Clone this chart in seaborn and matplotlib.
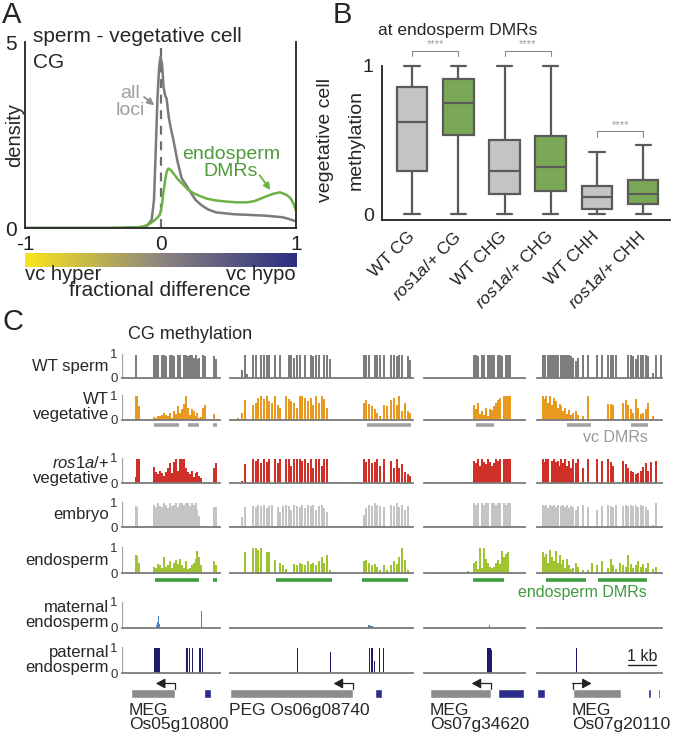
import matplotlib
matplotlib.use("Agg")
import matplotlib.pyplot as plt
from matplotlib.colors import LinearSegmentedColormap
import numpy as np
import pandas as pd
import seaborn as sns

# ---------------- panel A: density of (sperm - vegetative) CG methylation
ALL_X = [-1, -0.3, -0.15, -0.1, -0.065, -0.048, -0.035, -0.023, -0.01, 0, 0.012, 0.022,
         0.035, 0.045, 0.06, 0.075, 0.095, 0.125, 0.156, 0.19, 0.22, 0.26, 0.3, 0.35,
         0.41, 0.54, 0.66, 0.78, 0.9, 0.95, 1.0]
ALL_Y = [0, 0, 0.02, 0.06, 0.22, 0.76, 2.1, 3.44, 4.33, 4.6, 4.4, 3.8,
         3.55, 3.48, 3.0, 2.7, 2.37, 1.8, 1.34, 1.15, 0.97, 0.75, 0.62, 0.5,
         0.42, 0.37, 0.35, 0.33, 0.29, 0.24, 0.18]
DMR_X = [-1, -0.4, -0.25, -0.17, -0.127, -0.09, -0.053, -0.025, -0.004, 0.01, 0.021, 0.035,
         0.046, 0.058, 0.075, 0.095, 0.13, 0.169, 0.2, 0.242, 0.29, 0.341, 0.41, 0.488,
         0.56, 0.636, 0.69, 0.734, 0.78, 0.833, 0.882, 0.931, 0.96, 0.98, 1.0]
DMR_Y = [0, 0, 0.01, 0.02, 0.04, 0.09, 0.18, 0.27, 0.36, 0.6, 0.94, 1.3,
         1.52, 1.6, 1.56, 1.47, 1.3, 1.16, 1.04, 0.94, 0.86, 0.79, 0.74, 0.71,
         0.69, 0.69, 0.72, 0.78, 0.85, 0.92, 0.96, 0.89, 0.8, 0.67, 0.47]

# ---------------- panel B: vegetative cell methylation at endosperm DMRs
B_LABELS = ["WT CG", "ros1a/+ CG", "WT CHG", "ros1a/+ CHG", "WT CHH", "ros1a/+ CHH"]
B_TICKLABELS = ["WT CG", r"$\it{ros1a}$/+ CG", "WT CHG", r"$\it{ros1a}$/+ CHG",
                "WT CHH", r"$\it{ros1a}$/+ CHH"]
B_MIN = [0, 0, 0, 0, 0, 0]
B_Q1 = [0.29, 0.53, 0.135, 0.155, 0.035, 0.067]
B_MED = [0.62, 0.75, 0.29, 0.32, 0.112, 0.135]
B_Q3 = [0.857, 0.912, 0.5, 0.525, 0.19, 0.229]
B_MAX = [1, 1, 1, 1, 0.42, 0.465]

# ---------------- panel C: CG methylation tracks (site position in % of window)
L1_POS = [2, 14, 15.5, 17, 33, 35, 37, 39, 41, 43, 45, 47, 49, 51, 53, 55, 57, 59, 61, 63,
          65, 67, 69, 71, 73, 75, 77, 79, 81, 83, 85, 94, 96]
L1_SPERM = [0.03, 0.95, 0, 0, 0.95, 0.95, 0.95, 0, 0.95, 0.95, 0.93, 0, 0.95, 0.95, 0.9, 0,
            0.95, 0.95, 0, 0.95, 0.95, 0.9, 0.95, 0.95, 0.85, 0.95, 0.8, 0.85, 0, 0.95, 0.9,
            0.9, 0.8]
L1_VEG = [0, 0.95, 0.95, 0.55, 0.12, 0.1, 0.15, 0.18, 0.22, 0.3, 0.2, 0.15, 0.28, 0.1, 0.35,
          0.25, 0.55, 0.3, 0.45, 0.65, 0.95, 0.5, 0.2, 0.45, 0.35, 0.15, 0.3, 0.1, 0.12, 0.5,
          0.6, 0.25, 0]
L1_ROS = [0, 0.25, 0.95, 0.95, 0.65, 0.45, 0.35, 0.5, 0.4, 0.3, 0.45, 0.6, 0.8, 0.4, 0.85,
          0.95, 0.5, 0.95, 0.95, 0.95, 0.6, 0.45, 0.35, 0.5, 0.25, 0.4, 0.45, 0.3, 0.2, 0, 0,
          0.6, 0.8]
L1_EMB = [0, 0.85, 0.8, 0, 0.9, 0.8, 0.95, 0.85, 0.8, 0.95, 0.9, 0.75, 0.95, 0.85, 0.9, 0.95,
          0.8, 0.95, 0.95, 0.9, 0.95, 0.95, 0.85, 0.95, 0.9, 0.95, 0.7, 0.45, 0, 0, 0, 0.8, 0.8]
L1_ENDO = [0, 0.7, 0.65, 0.4, 0.25, 0.2, 0.35, 0.3, 0.2, 0.6, 0.25, 0.3, 0.45, 0.2, 0.4, 0.5,
           0.35, 0.55, 0.3, 0.2, 0.45, 0.15, 0.2, 0.3, 0.4, 0.55, 0.85, 0.6, 0.3, 0, 0, 0.45,
           0.3]
L1_MAT_POS = [35, 36, 37, 38, 71, 81]
L1_MAT = [0.1, 0.25, 0.45, 0.15, 0.05, 0.65]
L1_PAT_POS = [33, 34.2, 35.4, 36.6, 37.8, 66, 67.2, 69, 72, 79, 80.5, 82]
L1_PAT = [0.95, 0.95, 0.95, 0.95, 0.95, 0.95, 0.95, 0.95, 0.95, 0.95, 0.95, 0.95]

L2_POS = [4.5, 6.5, 8, 9.5, 12.5, 14, 15.5, 17, 18.5, 20, 21.5, 23, 24.5, 26, 27.5, 29, 30.5,
          32, 33.5, 35, 36.5, 38, 39.5, 41, 42.5, 44, 45.5, 47, 48.5, 50, 51.5, 53, 54.5, 58,
          61, 64, 67, 70, 73, 74.5, 76, 77.5, 79, 80.5, 82, 84, 86, 88, 89.5, 91, 92.5, 94,
          95.5, 97, 98.5]
L2_SPERM = [0, 0.35, 0.95, 0.15,
            0.95, 0.95, 0, 0.95, 0.95, 0.95, 0.95, 0, 0.95, 0, 0.95, 0, 0, 0.95, 0.95, 0.85,
            0.95, 0.95, 0, 0.95, 0, 0.95, 0.9, 0.95, 0.95, 0, 0.95, 0.95, 0.8,
            0.02, 0.02, 0.03, 0.02, 0.02,
            0.95, 0.95, 0.95, 0, 0.95, 0.95, 0.95, 0.95, 0, 0.95, 0.95, 0.9, 0.95, 0.95, 0,
            0.9, 0.75]
L2_VEG = [0.08, 0.3, 0.8, 0,
          0.6, 0.7, 0.9, 0.95, 0.85, 0.95, 0.75, 0.7, 0.95, 0.6, 0.5, 0, 0.95, 0.85, 0.75,
          0.7, 0.5, 0.95, 0.95, 0.9, 0.75, 0.9, 0.6, 0.95, 0.7, 0.95, 0.85, 0.5, 0,
          0.02, 0.02, 0.03, 0.02, 0.02,
          0.7, 0.8, 0.65, 0.55, 0.45, 0.3, 0.15, 0.6, 0.55, 0.8, 0.9, 0.6, 0.95, 0.35, 0.7,
          0.35, 0.3]
L2_ROS = [0, 0.1, 0.75, 0.03,
          0.95, 0.9, 0.95, 0.8, 0.95, 0.85, 0.95, 0, 0.95, 0.8, 0.95, 0, 0.95, 0.95, 0.7,
          0.95, 0.95, 0.95, 0.9, 0.95, 0.8, 0.95, 0.6, 0.95, 0.95, 0.7, 0.95, 0.95, 0,
          0.06, 0.05, 0.06, 0.05, 0.04,
          0.95, 0.85, 0.95, 0.8, 0.85, 0.95, 0.7, 0.95, 0, 0.9, 0.6, 0.95, 0.6, 0.75, 0.45,
          0.35, 0.3]
L2_EMB = [0, 0.4, 0.8, 0,
          0.85, 0.8, 0.9, 0.85, 0.9, 0.75, 0.85, 0.9, 0, 0.8, 0.6, 0.85, 0.9, 0.85, 0.7, 0.9,
          0.85, 0.8, 0.9, 0.75, 0.9, 0.85, 0.9, 0.7, 0.85, 0.9, 0.75, 0.6, 0,
          0, 0, 0, 0, 0,
          0.5, 0.75, 0.9, 0.85, 0.95, 0.9, 0.85, 0.8, 0, 0.9, 0.85, 0.95, 0.8, 0.9, 0.7,
          0.85, 0.05]
L2_ENDO = [0, 0, 0.8, 0,
           0.95, 0.95, 0.9, 0.95, 0, 0.8, 0.8, 0, 0.5, 0, 0.4, 0.3, 0.15, 0.05, 0, 0.35,
           0.3, 0.4, 0.35, 0.3, 0.45, 0.35, 0.4, 0.3, 0.45, 0.6, 0.4, 0.7, 0.1,
           0, 0, 0, 0, 0,
           0.45, 0.5, 0.4, 0.3, 0.35, 0.25, 0.1, 0.3, 0.1, 0.3, 0.45, 0.35, 0.6, 0.95, 0.5,
           0.1, 0.05]
L2_MAT_POS = [76, 77, 78, 79]
L2_MAT = [0.1, 0.08, 0.07, 0.05]
L2_PAT_POS = [36.7, 54.7, 76.4, 77.2, 78.0, 78.8, 81.5, 84]
L2_PAT = [0.95, 0.8, 0.95, 0.95, 0.95, 0.45, 0.95, 0.95]

L3_POS = [5, 15, 25, 35, 44, 49.5, 51.5, 53.5, 55.5, 57.5, 59.5, 61.5, 63.5, 65.5, 67.5,
          69.5, 71.5, 73.5, 75.5, 77.5, 79.5, 81.5, 83.5, 85.5]
L3_SPERM = [0.02, 0.03, 0.02, 0.02, 0.03, 0.95, 0.95, 0.9, 0, 0.95, 0.95, 0, 0.95, 0.95,
            0.95, 0.95, 0, 0.95, 0.95, 0.9, 0, 0.95, 0.95, 0.95]
L3_VEG = [0.02, 0.01, 0.02, 0.02, 0.02, 0.6, 0.45, 0.7, 0.25, 0.35, 0.2, 0.5, 0.15, 0.45,
          0.4, 0.55, 0.7, 0.8, 0.9, 0, 0.95, 0.95, 0.95, 0.95]
L3_ROS = [0.05, 0.02, 0.02, 0.02, 0.03, 0.9, 0.8, 0.95, 0.7, 0.95, 0.85, 0.75, 0.95, 0.85,
          0.7, 0.8, 0.95, 0.9, 0.95, 0, 0.95, 0.95, 0.95, 0.95]
L3_EMB = [0, 0.02, 0, 0, 0, 0.95, 0.9, 0.95, 0, 0.95, 0.9, 0.95, 0.95, 0, 0.95, 0.95, 0.9,
          0.95, 0.95, 0, 0.95, 0.9, 0.95, 0.95]
L3_ENDO = [0, 0.02, 0, 0, 0.08, 0.4, 0.45, 0.15, 0.95, 0.2, 0.95, 0.55, 0.4, 0.25, 0.2,
           0.25, 0.4, 0.5, 0.35, 0.85, 0.6, 0.75, 0.8, 0]
L3_MAT_POS = [44, 65]
L3_MAT = [0.02, 0.1]
L3_PAT_POS = [63.4, 64.4, 65.4, 66.4]
L3_PAT = [0.95, 0.95, 0.95, 0.9]

L4_POS = [4.5, 6, 7.5, 9, 10.5, 12, 13.5, 15, 16.5, 18, 19.5, 21, 22.5, 24, 25.5, 27, 28.5,
          31, 33, 37, 41, 44, 48, 52, 57, 59, 61, 63, 66, 69, 71, 73, 75, 77, 79, 81, 83, 85,
          87, 89, 91, 93, 95, 99.5]
L4_SPERM = [0.95, 0.95, 0, 0.95, 0.95, 0.95, 0.95, 0.95, 0.95, 0, 0.95, 0.95, 0.95, 0.95,
            0.95, 0.9, 0.85,
            0.7, 0.85, 0.95, 0.95, 0, 0.95, 0.95, 0.95, 0.95, 0.95, 0.95, 0, 0, 0, 0.95, 0.95,
            0.9, 0.8, 0.95, 0.95, 0.95, 0.95, 0.9, 0, 0.2, 0.95, 0.95]
L4_VEG = [0.95, 0.85, 0.95, 0.7, 0.95, 0.6, 0.9, 0.75, 0.5, 0.65, 0.55, 0.35, 0.5, 0.25, 0.4,
          0.2, 0.3,
          0.35, 0.2, 0.15, 0.95, 0, 0, 0, 0.65, 0.65, 0.6, 0, 0, 0.7, 0.8, 0.6, 0.45, 0.3,
          0.85, 0.5, 0.25, 0.3, 0.45, 0.7, 0, 0.15, 0, 0]
L4_ROS = [0.95, 0.85, 0.95, 0.95, 0, 0.9, 0.95, 0.85, 0.9, 0.7, 0.95, 0.8, 0.95, 0.7, 0.9,
          0.6, 0.95,
          0.8, 0.95, 0.6, 0.95, 0, 0.95, 0.9, 0.95, 0.85, 0.7, 0, 0, 0.9, 0.75, 0.6, 0.5, 0.45,
          0.35, 0.4, 0.5, 0.65, 0.8, 0.5, 0.85, 0, 0.9, 0]
L4_EMB = [0.9, 0.85, 0.9, 0.75, 0.9, 0.85, 0.9, 0.8, 0.9, 0, 0.85, 0.9, 0.8, 0.9, 0.75, 0.85,
          0.8,
          0.7, 0.85, 0.9, 0.8, 0, 0.7, 0.85, 0.9, 0.85, 0.8, 0.9, 0, 0.85, 0.9, 0.85, 0.9,
          0.85, 0.9, 0.8, 0.9, 0.85, 0.8, 0.7, 0, 0.1, 0.95, 0]
L4_ENDO = [0.8, 0.6, 0.75, 0.4, 0.9, 0.6, 0.45, 0.85, 0.4, 0.7, 0.35, 0.5, 0.2, 0.55, 0.3,
           0.15, 0.2,
           0.4, 0.25, 0.1, 0.1, 0.4, 0.3, 0.45, 0.2, 0.55, 0.3, 0.15, 0.4, 0.3, 0.25, 0.7,
           0.35, 0.2, 0.3, 0.45, 0.25, 0.35, 0.2, 0.4, 0, 0.15, 0.25, 0]
L4_MAT_POS = []
L4_MAT = []
L4_PAT_POS = [31.5]
L4_PAT = [0.95]

VC_DMRS = [[(33, 58), (67, 79), (93, 97)], [(75, 99)], [(51, 69)], [(24, 43), (75, 89)]]
ENDO_DMRS = [[(34, 79), (93, 97)], [(25, 56), (72, 97)], [(49, 79)], [(7, 39), (49, 88)]]

GENE_SPANS = [(9, 54), (0, 67), (6, 66), (28.5, 67.5)]
GENE_STRAND = [-1, -1, -1, 1]
BLUE_BLOCKS = [[(84, 91)], [(79, 83)], [(73, 99.5)], [(0, 6), (89, 91), (97, 98)]]
GENE_LABELS = ["MEG\nOs05g10800", "PEG Os06g08740", "MEG\nOs07g34620", "MEG\nOs07g20110"]

TRACK_NAMES = ["WT sperm", "WT\nvegetative", "$\\it{ros1a}$/+\nvegetative", "embryo",
               "endosperm", "maternal\nendosperm", "paternal\nendosperm"]
TRACK_COLORS = ["#7d7d7d", "#e8991f", "#d03028", "#c4c4c4", "#9ec431", "#4b84c8", "#1c1c6c"]

# ---------------- layout (pixels of a 677 x 740 figure)
W, H = 677, 740
TRACK_ROWS = [(354, 378), (395, 420), (458, 483), (502, 527), (547, 573), (602, 628),
              (647, 673)]
LOCUS_COLS = [(122, 220), (230, 413), (424, 525), (537, 662)]

sns.set_style("white")
plt.rcParams["font.family"] = ["Liberation Sans", "DejaVu Sans"]
plt.rcParams["mathtext.fontset"] = "custom"
plt.rcParams["mathtext.rm"] = "Liberation Sans"
plt.rcParams["mathtext.it"] = "Liberation Sans:italic"

fig = plt.figure(figsize=(W / 100, H / 100), dpi=100)


def px_axes(x0, y0, x1, y1):
    return fig.add_axes([x0 / W, 1 - y1 / H, (x1 - x0) / W, (y1 - y0) / H])


def ptext(x, y, s, **kw):
    kw.setdefault("va", "center")
    return fig.text(x / W, 1 - y / H, s, **kw)


# ---------------- A
axA = px_axes(25, 42, 296, 228)
sns.lineplot(x=ALL_X, y=ALL_Y, color="#7a7a7a", lw=1.8, sort=False, estimator=None, ax=axA)
sns.lineplot(x=DMR_X, y=DMR_Y, color="#6cb244", lw=1.8, sort=False, estimator=None, ax=axA)
axA.axvline(0, color="#6e6e6e", lw=1.6, ls=(0, (4, 3)), zorder=0)
axA.set_xlim(-1, 1)
axA.set_ylim(0, 5)
axA.set_yticks([0, 5])
axA.set_yticklabels(["0", "5"], fontsize=15)
axA.set_xticks([-1, -0.5, 0, 0.5, 1])
axA.set_xticklabels(["-1", "", "0", "", "1"], fontsize=15)
axA.tick_params(direction="out", length=4, width=1.3, pad=1, colors="#222222")
axA.tick_params(axis="y", pad=2)
for s in ["left", "bottom", "right"]:
    axA.spines[s].set_color("#222222")
    axA.spines[s].set_linewidth(1.3)
axA.spines["top"].set_visible(False)
axA.set_xlabel("")
axA.set_ylabel("")
axA.text(-0.225, 3.39, "all\nloci", color="#a0a0a0", fontsize=14, ha="center",
         va="center", linespacing=1.05)
axA.annotate("", xy=(-0.03, 3.25), xytext=(-0.137, 3.57),
             arrowprops=dict(arrowstyle="-|>", color="#909090", lw=1.3))
axA.text(0.52, 1.75, "endosperm\nDMRs", color="#4f9a3a", fontsize=14, ha="center",
         va="center", linespacing=1.05)
axA.annotate("", xy=(0.823, 0.96), xytext=(0.72, 1.48),
             arrowprops=dict(arrowstyle="-|>", color="#6cb244", lw=1.3))
ptext(33, 37, "sperm - vegetative cell", fontsize=15)
ptext(33, 62, "CG", fontsize=15)
ptext(15, 135, "density", fontsize=14.5, rotation=90, ha="center")
ptext(2, 15, "A", fontsize=21)

axCb = px_axes(25, 253, 296, 267)
cmap = LinearSegmentedColormap.from_list("vc", ["#f8e51a", "#8d8580", "#2b2e82"])
axCb.imshow(np.linspace(0, 1, 256)[None, :], aspect="auto", cmap=cmap)
axCb.set_axis_off()
ptext(25, 274, "vc hyper", fontsize=14.5)
ptext(296, 274, "vc hypo", fontsize=14.5, ha="right")
ptext(160, 291, "fractional difference", fontsize=15, ha="center")

# ---------------- B
box_rows = []
for i, lab in enumerate(B_LABELS):
    for v in (B_MIN[i], B_Q1[i], B_MED[i], B_Q3[i], B_MAX[i]):
        box_rows.append({"sample": lab, "methylation": v})
box_df = pd.DataFrame(box_rows)

axB = px_axes(382, 36, 670, 220)
sns.boxplot(data=box_df, x="sample", y="methylation", hue="sample", order=B_LABELS,
            hue_order=B_LABELS, palette=["#c4c4c4", "#7ab648"] * 3, whis=(0, 100),
            width=0.66, linewidth=1.6, linecolor="#5a5a5a", fliersize=0, legend=False,
            ax=axB)
axB.set_xlim(-0.65, 5.58)
axB.set_ylim(-0.04, 1.2)
axB.set_yticks([0, 0.2, 0.4, 0.6, 0.8, 1])
axB.set_yticklabels(["0", "", "", "", "", "1"], fontsize=14)
axB.set_xticks(range(6))
axB.set_xticklabels(B_TICKLABELS, rotation=45, ha="right", va="center",
                    rotation_mode="anchor", fontsize=12.5)
axB.tick_params(direction="out", length=4, width=1.3, pad=2, colors="#222222")
axB.tick_params(axis="x", pad=6)
axB.spines["left"].set_bounds(-0.04, 1)
for s in ["left", "bottom"]:
    axB.spines[s].set_color("#222222")
    axB.spines[s].set_linewidth(1.3)
for s in ["top", "right"]:
    axB.spines[s].set_visible(False)
axB.set_xlabel("")
axB.set_ylabel("")
for (a, b, y0, y1) in [(0, 1, 1.063, 1.1), (2, 3, 1.063, 1.1), (4, 5, 0.52, 0.557)]:
    axB.plot([a, a, b, b], [y0, y1, y1, y0], color="#8a8a8a", lw=0.8, clip_on=False)
    axB.text((a + b) / 2, y1 + 0.01, "****", color="#9a9a9a", fontsize=8, ha="center",
             va="bottom")
ptext(378, 30, "at endosperm DMRs", fontsize=12.5)
ptext(325, 140, "vegetative cell", fontsize=14, rotation=90, ha="center")
ptext(356, 140, "methylation", fontsize=14, rotation=90, ha="center")
ptext(333, 15, "B", fontsize=21)

# ---------------- C
loci = [
    (L1_POS, [L1_SPERM, L1_VEG, L1_ROS, L1_EMB, L1_ENDO], L1_MAT_POS, L1_MAT, L1_PAT_POS, L1_PAT),
    (L2_POS, [L2_SPERM, L2_VEG, L2_ROS, L2_EMB, L2_ENDO], L2_MAT_POS, L2_MAT, L2_PAT_POS, L2_PAT),
    (L3_POS, [L3_SPERM, L3_VEG, L3_ROS, L3_EMB, L3_ENDO], L3_MAT_POS, L3_MAT, L3_PAT_POS, L3_PAT),
    (L4_POS, [L4_SPERM, L4_VEG, L4_ROS, L4_EMB, L4_ENDO], L4_MAT_POS, L4_MAT, L4_PAT_POS, L4_PAT),
]

for j, (x0, x1) in enumerate(LOCUS_COLS):
    pos, dense, mpos, mval, ppos, pval = loci[j]
    wide = 2.0 / (x1 - x0) * 100
    thin = 1.2 / (x1 - x0) * 100
    for i, (y0, y1) in enumerate(TRACK_ROWS):
        ax = px_axes(x0, y0, x1, y1)
        if i < 5:
            ax.bar(pos, dense[i], width=wide, color=TRACK_COLORS[i], linewidth=0)
        elif i == 5:
            ax.bar(mpos, mval, width=thin, color=TRACK_COLORS[i], linewidth=0)
        else:
            ax.bar(ppos, pval, width=thin, color=TRACK_COLORS[i], linewidth=0)
        ax.set_xlim(0, 100)
        ax.set_ylim(0, 1)
        ax.set_xticks([])
        for s in ["top", "right"]:
            ax.spines[s].set_visible(False)
        ax.spines["bottom"].set_color("#7a7a7a")
        ax.spines["bottom"].set_linewidth(1.3)
        if j == 0:
            ax.spines["left"].set_color("#a0a0a0")
            ax.spines["left"].set_linewidth(0.8)
            ax.set_yticks([0, 1])
            ax.set_yticklabels(["0", "1"], fontsize=9.5)
            ax.tick_params(axis="y", length=2, width=0.8, pad=1, colors="#a0a0a0",
                           labelcolor="#333333")
        else:
            ax.spines["left"].set_visible(False)
            ax.set_yticks([])
        if i == 1:
            for a, b in VC_DMRS[j]:
                ax.hlines(-0.2, a, b, color="#a3a3a3", lw=2.6, clip_on=False)
        if i == 4:
            for a, b in ENDO_DMRS[j]:
                ax.hlines(-0.28, a, b, color="#3f9b3f", lw=2.6, clip_on=False)
        if i == 6 and j == 3:
            ax.plot([72.8, 95.2], [0.3, 0.3], color="#222222", lw=1, clip_on=False)
            ax.text(84, 0.36, "1 kb", fontsize=11.5, ha="center", va="bottom")

    # gene model (y in figure pixels)
    axg = px_axes(x0, 676, x1, 702)
    axg.set_xlim(0, 100)
    axg.set_ylim(702, 676)
    axg.set_axis_off()
    gs, ge = GENE_SPANS[j]
    axg.broken_barh([(gs, ge - gs)], (689, 9.5), facecolors="#8c8c8c")
    for a, b in BLUE_BLOCKS[j]:
        axg.broken_barh([(a, b - a)], (689, 9.5), facecolors="#2b2d8c")
    tss = ge if GENE_STRAND[j] < 0 else gs
    alen = 19 / (x1 - x0) * 100 * GENE_STRAND[j]
    axg.plot([tss, tss], [689, 683.5], color="#222222", lw=0.9)
    axg.annotate("", xy=(tss + alen, 683.5), xytext=(tss, 683.5),
                 arrowprops=dict(arrowstyle="-|>,head_length=0.55,head_width=0.3",
                                 color="#222222", lw=0.9, shrinkA=0, shrinkB=0))

for i, (y0, y1) in enumerate(TRACK_ROWS):
    ptext(109, (y0 + y1) / 2, TRACK_NAMES[i], fontsize=12, ha="right", ma="right",
          linespacing=1.0)

for j, x in enumerate([129, 229, 430, 572]):
    ptext(x, 703, GENE_LABELS[j], fontsize=12.5, va="top", linespacing=0.95)

ptext(648, 437, "vc DMRs", fontsize=11.5, ha="right", color="#9a9a9a")
ptext(647, 593, "endosperm DMRs", fontsize=11.5, ha="right", color="#3f9b3f")
ptext(190, 334, "CG methylation", fontsize=13, ha="center")
ptext(2, 322, "C", fontsize=21)

fig.savefig("out.png", dpi=100)
